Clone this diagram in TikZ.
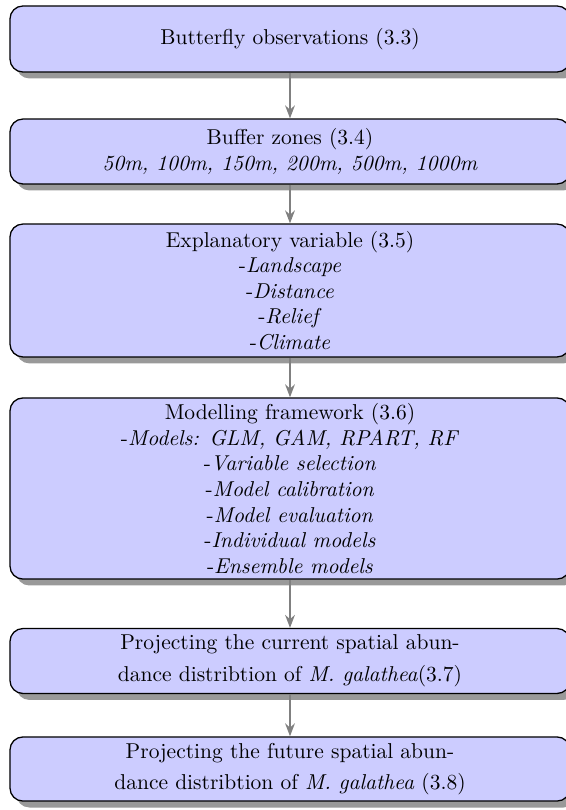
\documentclass[tikz,border=0pt]{standalone}
\usetikzlibrary{shadows,arrows.meta}
\begin{document}
\begin{tikzpicture}[x=0.465pt,y=-0.465pt,
  box/.style={draw=black, line width=0.6pt, fill=blue!20, rounded corners=6pt,
    minimum width=260.4pt, align=center, inner xsep=3pt, inner ysep=1.5pt,
    drop shadow={shadow xshift=3pt, shadow yshift=-3pt, fill=black!40, opacity=1},
    font=\fontsize{10}{12}\selectfont},
  flow/.style={draw=black!50, line width=1pt, -{Stealth[length=6pt,width=4.5pt]}}]
\useasboundingbox (0,0) rectangle (566,810);
\fill[white] (0,0) rectangle (566,810);
\clip (0,0) rectangle (566,810);
\node[box, minimum height=30.7pt] (b1) at (290,39) {Butterfly observations (3.3)};
\node[box, minimum height=30.2pt, font=\fontsize{10}{12.5}\selectfont] (b2) at (290,151.5) {Buffer zones (3.4)\\ \textit{50m, 100m, 150m, 200m, 500m, 1000m}};
\node[box, minimum height=61.8pt, font=\fontsize{10}{11.8}\selectfont] (b3) at (290,290.5) {Explanatory variable (3.5)\\ -\textit{Landscape}\\ -\textit{Distance}\\ -\textit{Relief}\\ -\textit{Climate}};
\node[box, minimum height=84.2pt, font=\fontsize{10}{11.9}\selectfont] (b4) at (290,488.5) {Modelling framework (3.6)\\ -\textit{Models: GLM, GAM, RPART, RF}\\ -\textit{Variable selection}\\ -\textit{Model calibration}\\ -\textit{Model evaluation}\\ -\textit{Individual models}\\ -\textit{Ensemble models}};
\node[box, minimum height=30.2pt, font=\fontsize{10}{15}\selectfont] (b5) at (290,661) {Projecting the current spatial abun-\\ dance distribtion of \textit{M. galathea}(3.7)};
\node[box, minimum height=29.8pt, font=\fontsize{10}{14.5}\selectfont] (b6) at (290,769) {Projecting the future spatial abun-\\ dance distribtion of \textit{M. galathea} (3.8)};
\draw[flow] (b1) -- (b2);
\draw[flow] (b2) -- (b3);
\draw[flow] (b3) -- (b4);
\draw[flow] (b4) -- (b5);
\draw[flow] (b5) -- (b6);
\end{tikzpicture}
\end{document}
